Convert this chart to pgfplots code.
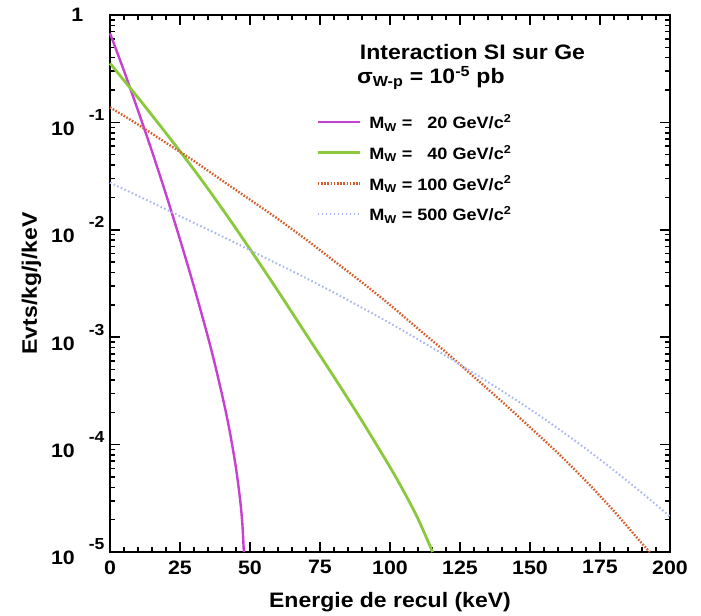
\documentclass[border=0pt]{standalone}
\usepackage{fontspec}
\setmainfont{Liberation Sans}[FakeStretch=1.1]
\usepackage{pgfplots}
\pgfplotsset{compat=1.18}
\definecolor{cmag}{RGB}{200,64,210}
\definecolor{cgreen}{RGB}{138,200,60}
\definecolor{cred}{RGB}{215,95,45}
\definecolor{cblue}{RGB}{170,182,245}
\newcommand{\ytl}[1]{10\rule{14bp}{0pt}\raisebox{15bp}{\fontsize{16}{16}\selectfont #1}}
\begin{document}
\begin{tikzpicture}
\begin{axis}[
  scale only axis, width=560bp, height=537bp,
  xmin=0, xmax=200, ymin=0.00001, ymax=1, ymode=log,
  clip=false,
  xtick={0,25,50,75,100,125,150,175,200}, minor x tick num=4,
  ytick={0.00001,0.0001,0.001,0.01,0.1,1},
  yticklabels={\ytl{-5},\ytl{-4},\ytl{-3},\ytl{-2},\ytl{-1},{\makebox[33bp][l]{1}}},
  tick align=inside,
  major tick length=10bp, minor tick length=5bp,
  tick style={color=black, line width=1.5bp},
  axis line style={line width=2.2bp},
  tick label style={font=\fontsize{19.5}{22}\selectfont\bfseries},
  xticklabel style={yshift=-5bp, /pgf/number format/assume math mode=true},
  yticklabel style={xshift=-2bp},
  xlabel={Energie de recul (keV)},
  ylabel={Evts/kg/j/keV},
  xlabel style={font=\fontsize{21}{23}\selectfont\bfseries, at={(rel axis cs:0.5,-0.093)}, anchor=center},
  ylabel style={font=\fontsize{21}{23}\selectfont\bfseries, at={(rel axis cs:-0.14,0.5)}, anchor=center},
  legend style={at={(rel axis cs:0.363,0.823)}, anchor=north west, draw=none, fill=none,
    font=\fontsize{16.5}{18}\selectfont\bfseries, row sep=11bp, column sep=6bp},
  legend cell align=left,
  legend image code/.code={\draw[#1] (0bp,0bp) -- (42bp,0bp);},
]
\addplot[cmag, line width=2.4bp, smooth] coordinates {
(0,0.676) (5,0.302) (10,0.129) (15,0.0537) (20,0.0214) (25,0.00813) (30,0.00295)
(35,0.001) (38,4.90e-4) (41,2.24e-4) (43,1.23e-4) (45,6.03e-5) (46.5,3.02e-5)
(47.3,1.78e-5) (47.8,1.0e-5)};
\addlegendentry{M\textsubscript{W} = \phantom{1}20 GeV/c\textsuperscript{2}}
\addplot[cgreen, line width=2.8bp, smooth] coordinates {
(0,0.355) (10,0.170) (20,0.0794) (30,0.0363) (40,0.0158) (50,0.00661) (60,0.00269)
(70,0.00107) (80,4.27e-4) (90,1.66e-4) (100,6.17e-5) (105,3.63e-5) (110,2.04e-5)
(115.2,1.0e-5)};
\addlegendentry{M\textsubscript{W} = \phantom{1}40 GeV/c\textsuperscript{2}}
\addplot[cred, line width=2.4bp, dash pattern=on 1.6bp off 1.6bp, smooth] coordinates {
(0,0.138) (10,0.0955) (20,0.0646) (30,0.0437) (40,0.0288) (50,0.0191) (60,0.0126)
(70,0.00813) (80,0.00513) (90,0.00324) (100,0.00200) (110,0.00120) (120,7.24e-4)
(130,4.27e-4) (140,2.51e-4) (150,1.45e-4) (160,8.32e-5) (170,4.57e-5) (180,2.40e-5)
(190,1.20e-5) (192.8,1.0e-5)};
\addlegendentry{M\textsubscript{W} = 100 GeV/c\textsuperscript{2}}
\addplot[cblue, line width=2bp, dash pattern=on 1.6bp off 2.4bp, smooth] coordinates {
(0,0.0275) (10,0.0207) (20,0.0155) (30,0.0116) (40,0.00871) (50,0.00646) (60,0.00479)
(70,0.00355) (80,0.00260) (90,0.00188) (100,0.00135) (110,9.55e-4) (120,6.68e-4)
(130,4.62e-4) (140,3.16e-4) (150,2.14e-4) (160,1.41e-4) (170,9.12e-5) (180,5.75e-5)
(190,3.55e-5) (200,2.14e-5)};
\addlegendentry{M\textsubscript{W} = 500 GeV/c\textsuperscript{2}}
\node[anchor=west, font=\fontsize{21}{23}\selectfont\bfseries] at (rel axis cs:0.44,0.931) {Interaction SI sur Ge};
\node[anchor=west, font=\fontsize{21}{23}\selectfont\bfseries] at (rel axis cs:0.435,0.883) {σ\textsubscript{W-p} = 10\textsuperscript{-5} pb};
\path (rel axis cs:0,0) ++(-110bp,-62bp) circle[radius=0pt];
\path (rel axis cs:1,1) ++(31bp,15bp) circle[radius=0pt];
\end{axis}
\end{tikzpicture}
\end{document}
